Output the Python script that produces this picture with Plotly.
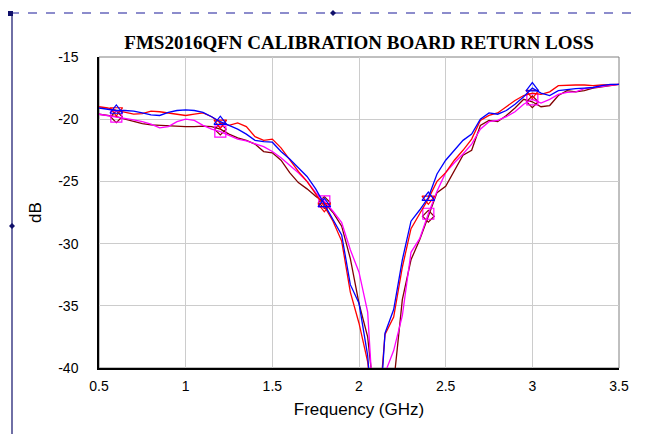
import numpy as np
import plotly.graph_objects as go

freq_ghz = [0.50, 0.55, 0.60, 0.65, 0.70, 0.75, 0.80, 0.85, 0.90, 0.95,
            1.00, 1.05, 1.10, 1.15, 1.20, 1.25, 1.30, 1.35, 1.40, 1.45,
            1.50, 1.55, 1.60, 1.65, 1.70, 1.75, 1.80, 1.85, 1.90, 1.95,
            2.00, 2.05, 2.10, 2.15, 2.20, 2.25, 2.30, 2.35, 2.40, 2.45,
            2.50, 2.55, 2.60, 2.65, 2.70, 2.75, 2.80, 2.85, 2.90, 2.95,
            3.00, 3.05, 3.10, 3.15, 3.20, 3.25, 3.30, 3.35, 3.40, 3.45, 3.50]

blue_db = [-19.1, -19.2, -19.3, -19.3, -19.35, -19.5, -19.65, -19.7, -19.45, -19.3,
           -19.25, -19.3, -19.45, -19.8, -20.2, -20.5, -20.8, -21.2, -21.7, -21.8,
           -21.85, -22.6, -23.2, -23.9, -24.6, -25.6, -26.8, -28.0, -29.3, -33.3,
           -34.8, -39.0, -48.0, -37.2, -35.3, -31.3, -28.2, -27.3, -26.3, -24.4,
           -23.3, -22.5, -21.7, -21.2, -20.0, -19.5, -19.6, -19.3, -18.8, -18.2,
           -17.5, -17.9, -18.1, -17.7, -17.6, -17.55, -17.5, -17.45, -17.3, -17.2, -17.2]

red_db = [-19.0, -19.1, -19.3, -19.45, -19.6, -19.55, -19.35, -19.4, -19.5, -19.6,
          -19.7, -19.6, -19.5, -19.8, -20.3, -20.5, -20.3, -20.6, -21.4, -21.7,
          -21.6, -22.3, -23.3, -24.2, -25.0, -26.0, -27.0, -28.2, -29.8, -33.9,
          -36.4, -39.5, -46.0, -37.3, -35.9, -31.9, -28.8, -27.6, -26.4, -25.0,
          -24.3, -23.3, -22.5, -21.6, -20.1, -19.7, -19.5, -19.0, -18.5, -18.1,
          -17.9, -18.0, -17.8, -17.3, -17.25, -17.25, -17.25, -17.3, -17.25, -17.2, -17.2]

brown_db = [-19.6, -19.7, -19.8, -20.0, -20.2, -20.35, -20.45, -20.5, -20.55, -20.6,
            -20.6, -20.6, -20.55, -20.6, -20.8, -21.2, -21.5, -21.7, -22.0, -22.6,
            -22.7, -23.3, -24.3, -25.1, -25.6, -26.2, -26.7, -27.5, -28.6, -31.2,
            -34.8, -37.5, -44.0, -48.0, -41.5, -34.5, -31.3, -29.7, -27.8, -25.9,
            -25.4, -24.2, -22.9, -22.5, -20.5, -20.1, -20.2, -19.7, -19.1, -18.4,
            -18.6, -19.0, -18.9, -18.1, -17.7, -17.8, -17.7, -17.5, -17.4, -17.3, -17.2]

magenta_db = [-19.6, -19.7, -19.8, -19.95, -20.05, -20.2, -20.4, -20.7, -20.6, -20.2,
              -20.0, -20.1, -20.5, -20.8, -21.0, -21.3, -21.6, -21.75, -22.0, -22.2,
              -22.6, -23.1, -23.7, -24.3, -25.0, -25.9, -26.6, -27.4, -28.3, -30.5,
              -32.3, -35.5, -47.0, -40.4, -38.6, -35.8, -30.7, -29.6, -27.6, -25.8,
              -24.3, -23.5, -22.8, -22.0, -20.8, -20.2, -20.1, -19.8, -19.4, -18.8,
              -18.4, -18.7, -18.4, -18.0, -17.85, -17.8, -17.55, -17.45, -17.4, -17.3, -17.2]

marker_freqs = [0.6, 1.2, 1.8, 2.4, 3.0]

x_ticks = [0.5, 1, 1.5, 2, 2.5, 3, 3.5]
y_ticks = [-15, -20, -25, -30, -35, -40]

series = [
    ("brown", brown_db, "#800000", "diamond-open", 9),
    ("magenta", magenta_db, "#FF00FF", "square-open", 11),
    ("red", red_db, "#FF0000", "triangle-down-open", 11),
    ("blue", blue_db, "#0000FF", "triangle-up-open", 11),
]

fig = go.Figure()
for name, vals, col, sym, sz in series:
    fig.add_trace(go.Scatter(x=freq_ghz, y=vals, mode="lines", name=name,
                             line=dict(color=col, width=1.3), showlegend=False,
                             hoverinfo="skip"))
    my = np.interp(marker_freqs, freq_ghz, vals)
    fig.add_trace(go.Scatter(x=marker_freqs, y=my, mode="markers", showlegend=False,
                             marker=dict(symbol=sym, size=sz, color=col,
                                         line=dict(color=col, width=1.2))))

# page has an 8px body margin; plot area on screen: x 99..619 px, y 57..368 px
def px(xp):
    return (xp - 99) / 520.0

def py(yp):
    return (368 - yp) / 311.0

shapes = [
    dict(type="rect", xref="paper", yref="paper", x0=0, x1=1, y0=0, y1=1,
         line=dict(color="#808080", width=1), layer="below"),
    dict(type="line", xref="paper", yref="paper", x0=px(12), x1=px(12), y0=py(13), y1=py(440),
         line=dict(color="#10106a", width=1.2)),
    dict(type="line", xref="paper", yref="paper", x0=px(10), x1=px(650), y0=py(13), y1=py(13),
         line=dict(color="#1a1a9a", width=1.2, dash="dash")),
    dict(type="rect", xref="paper", yref="paper", x0=px(8), x1=px(13), y0=py(16), y1=py(11),
         fillcolor="#10106a", line=dict(width=0)),
    dict(type="path", xref="paper", yref="paper",
         path=f"M {px(333)} {py(10)} L {px(336)} {py(13)} L {px(333)} {py(16)} L {px(330)} {py(13)} Z",
         fillcolor="#10106a", line=dict(width=0)),
    dict(type="path", xref="paper", yref="paper",
         path=f"M {px(12)} {py(223)} L {px(15)} {py(226)} L {px(12)} {py(229)} L {px(9)} {py(226)} Z",
         fillcolor="#10106a", line=dict(width=0)),
]

fig.update_layout(
    width=639, height=426,
    margin=dict(l=91, r=28, t=49, b=66),
    paper_bgcolor="white", plot_bgcolor="white",
    title=dict(text="<b>FMS2016QFN CALIBRATION BOARD RETURN LOSS</b>",
               font=dict(family="Liberation Serif", size=19, color="black"),
               x=px(359), xanchor="center", xref="paper",
               y=1 - 34 / 426, yanchor="middle"),
    font=dict(family="Liberation Sans", size=14, color="black"),
    shapes=shapes,
)
fig.update_xaxes(range=[0.5, 3.5], tickvals=x_ticks, ticktext=[str(v) for v in x_ticks],
                 showgrid=True, gridcolor="#cccccc", gridwidth=1,
                 showline=True, linecolor="black", linewidth=2, zeroline=False,
                 ticks="outside", ticklen=4, tickcolor="rgba(0,0,0,0)",
                 title=dict(text="Frequency (GHz)", standoff=10))
fig.update_yaxes(range=[-40, -15], tickvals=y_ticks, ticktext=[str(v) for v in y_ticks],
                 showgrid=True, gridcolor="#cccccc", gridwidth=1,
                 showline=True, linecolor="black", linewidth=1.5, zeroline=False,
                 ticks="outside", ticklen=16, tickcolor="rgba(0,0,0,0)",
                 title=dict(text="dB", standoff=12))

fig.write_html("out.html")
